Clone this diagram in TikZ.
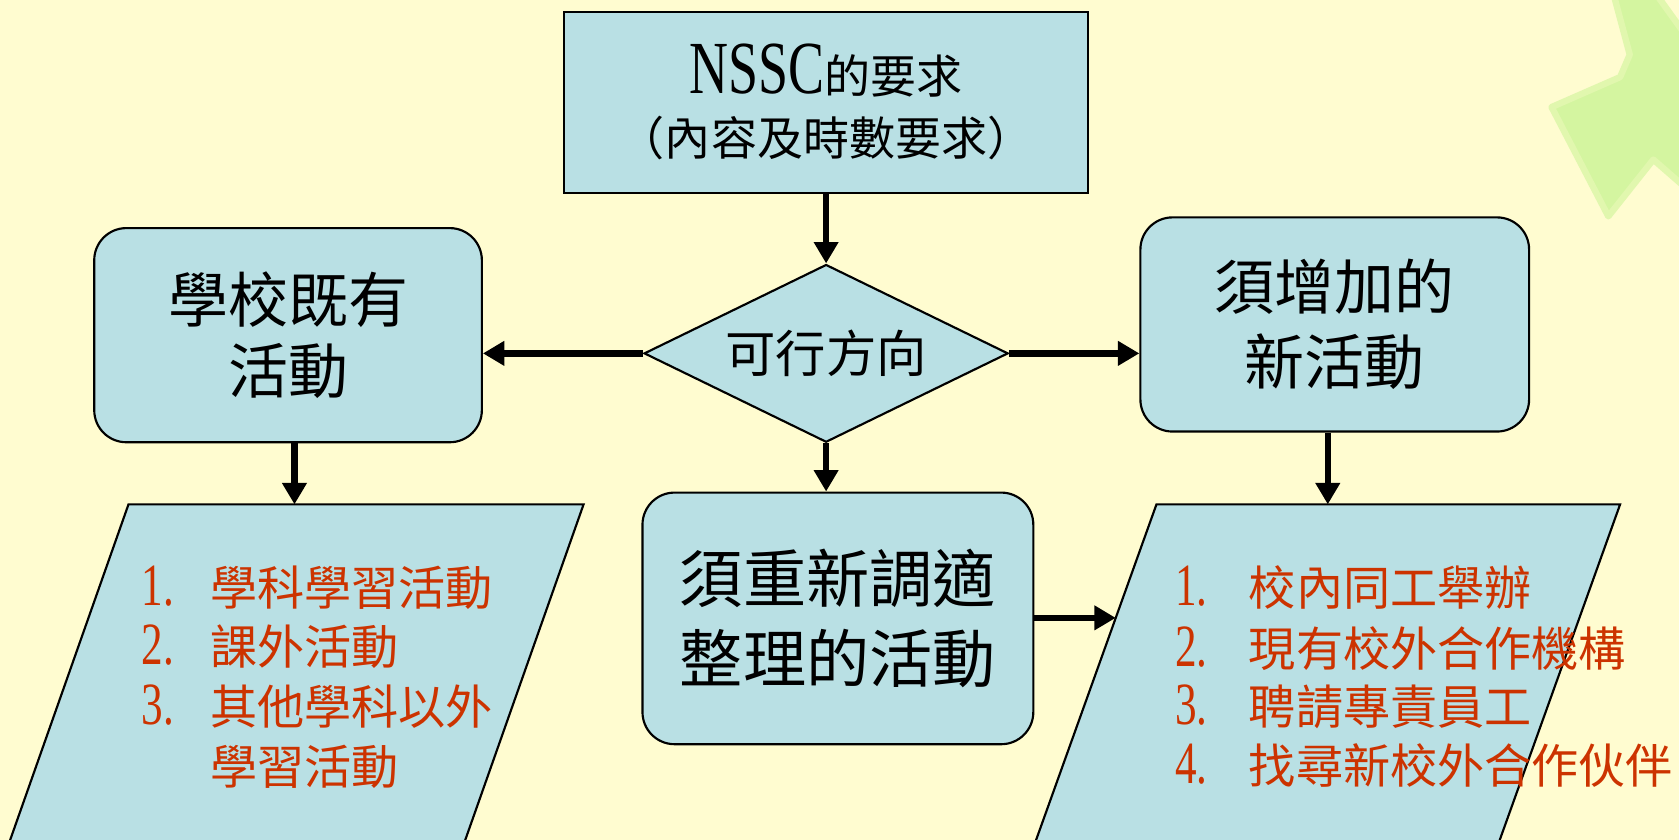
\documentclass[tikz,border=0pt]{standalone}
\usepackage{fontspec}
\setmainfont{Noto Sans CJK TC}
\newfontfamily\latc[FakeStretch=0.72]{Liberation Serif}
\usetikzlibrary{shapes.geometric,arrows.meta}
\definecolor{bg}{RGB}{255,252,208}
\definecolor{boxfill}{RGB}{185,224,228}
\definecolor{listred}{RGB}{204,51,0}
\definecolor{stargreen}{RGB}{212,245,160}
\begin{document}
\begin{tikzpicture}[x=0.5pt,y=-0.5pt,
  box/.style={draw=black, line width=1pt, fill=boxfill, inner sep=0pt, align=center},
  rbox/.style={box, rounded corners=15pt},
  arr/.style={line width=3pt, -{Triangle[width=11pt,length=10pt]}},
  listtxt/.style={text=listred, anchor=base west, inner sep=0pt, font=\fontsize{22}{28}\selectfont},
  para/.style={draw=black, line width=1pt, fill=boxfill}
]
\clip (0,0) rectangle (1568,784);
\fill[bg] (0,0) rectangle (1568,784);
% decorative star
\draw[stargreen!70!bg, line width=3pt, line join=round, fill=stargreen]
  (1449,100) -- (1513,72) -- (1522,51) -- (1507,-5) -- (1547,-5) -- (1575,34)
  -- (1575,176) -- (1544,149) -- (1502,202) -- cycle;

% parallelograms
\draw[para] (120,471) -- (545,471) -- (429,800) -- (4,800) -- cycle;
\draw[para] (1080,471) -- (1513,471) -- (1395,800) -- (962,800) -- cycle;
\coordinate (lpt) at (275,471);
\coordinate (rpt) at (1240,471);
\coordinate (rpl) at (1042,577);

% boxes
\node[box, minimum width=244.5pt, minimum height=84.5pt,
      font=\fontsize{21.5}{29}\selectfont] (top) at (771.5,95.5)
  {{\latc\fontsize{35}{29}\selectfont NSSC}的要求\\（內容及時數要求）};
\node[box, shape=diamond, shape aspect=2, minimum width=170pt, minimum height=83pt,
      font=\fontsize{23.5}{28}\selectfont] (dia) at (771.5,330) {可行方向};
\node[rbox, minimum width=181pt, minimum height=100pt,
      font=\fontsize{28}{33.5}\selectfont] (lbox) at (269,313) {學校既有\\活動};
\node[rbox, minimum width=181.5pt, minimum height=100pt,
      font=\fontsize{28}{35}\selectfont] (rbox) at (1246.5,303) {須增加的\\新活動};
\node[rbox, minimum width=182.5pt, minimum height=117.5pt,
      font=\fontsize{29.5}{37.5}\selectfont] (mbox) at (782.5,577.5) {須重新調適\\整理的活動};

% list texts
\node[listtxt] (l1) at (132,565) {\makebox[32pt][l]{\latc\fontsize{28}{28}\selectfont 1.}學科學習活動};
\node[listtxt] (l2) at (132,621) {\makebox[32pt][l]{\latc\fontsize{28}{28}\selectfont 2.}課外活動};
\node[listtxt] (l3) at (132,677) {\makebox[32pt][l]{\latc\fontsize{28}{28}\selectfont 3.}其他學科以外};
\node[listtxt] (l4) at (132,733) {\makebox[32pt][l]{}學習活動};

\node[listtxt] (r1) at (1097,565) {\makebox[34.5pt][l]{\latc\fontsize{28}{28}\selectfont 1.}校內同工舉辦};
\node[listtxt] (r2) at (1097,622) {\makebox[34.5pt][l]{\latc\fontsize{28}{28}\selectfont 2.}現有校外合作機構};
\node[listtxt] (r3) at (1097,677) {\makebox[34.5pt][l]{\latc\fontsize{28}{28}\selectfont 3.}聘請專責員工};
\node[listtxt] (r4) at (1097,732) {\makebox[34.5pt][l]{\latc\fontsize{28}{28}\selectfont 4.}找尋新校外合作伙伴};

% arrows
\draw[arr] (top.south) -- (dia.north);
\draw[arr] (dia.west) -- (lbox.east |- dia.west);
\draw[arr] (dia.east) -- (rbox.west |- dia.east);
\draw[arr] (dia.south) -- (dia.south |- mbox.north);
\draw[arr] (lbox.south -| lpt) -- (lpt);
\draw[arr] (rbox.south -| rpt) -- (rpt);
\draw[arr] (mbox.east |- rpl) -- (rpl);
\end{tikzpicture}
\end{document}
